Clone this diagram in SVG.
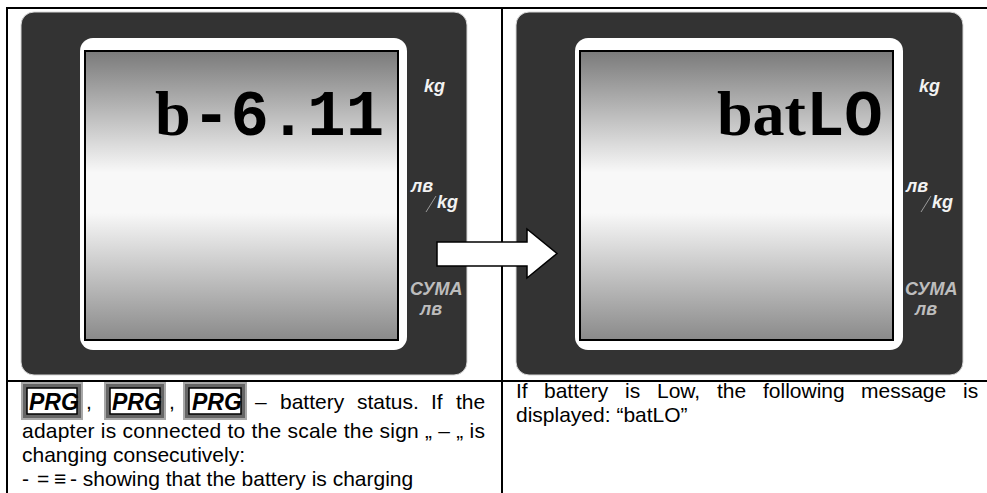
<svg xmlns="http://www.w3.org/2000/svg" width="987" height="493" viewBox="0 0 987 493">
<defs>
<linearGradient id="scr" x1="0" y1="0" x2="0" y2="1">
<stop offset="0" stop-color="#7a7a7a"/>
<stop offset="0.42" stop-color="#f8f8f8"/>
<stop offset="0.56" stop-color="#f8f8f8"/>
<stop offset="1" stop-color="#8a8a8a"/>
</linearGradient>
</defs>
<style>
.panel{fill:#333333;stroke:#d8d8d8;stroke-width:1}
.bezel{fill:#ffffff}
.screen{fill:url(#scr);stroke:#000;stroke-width:2}
.grid{stroke:#000;stroke-width:2;fill:none}
.lbl{font-family:"Liberation Sans",Arial,sans-serif;font-weight:bold;font-style:italic;font-size:18px;fill:#f2f2f2}
.lbl2{font-family:"Liberation Sans",Arial,sans-serif;font-weight:bold;font-style:italic;font-size:18px;fill:#bdbdbd}
.mono{font-family:"Liberation Mono","Courier New",monospace;font-weight:bold;font-size:64px;fill:#000}
.serif{font-family:"Liberation Serif","Times New Roman",serif;font-weight:bold;font-size:64px;fill:#000}
.body{font-family:"Liberation Sans",Arial,sans-serif;font-size:21px;fill:#000}
.prg{font-family:"Liberation Sans",Arial,sans-serif;font-weight:bold;font-style:italic;font-size:23px;fill:#000}
.pbo{fill:#a8a8a8}
.pbi{fill:#666666}
.pbw{fill:#ffffff;stroke:#000;stroke-width:1.5}
</style>
<rect width="987" height="493" fill="#ffffff"/>

<g id="table-grid">
<line class="grid" x1="6" y1="8" x2="987" y2="8"/>
<line class="grid" x1="7" y1="8" x2="7" y2="493"/>
<line class="grid" x1="502" y1="8" x2="502" y2="493"/>
<line class="grid" x1="6" y1="381" x2="987" y2="381"/>
</g>

<g id="display-left">
<rect class="panel" x="21" y="12" width="446" height="363" rx="13"/>
<rect class="bezel" x="80" y="38" width="327" height="312" rx="13"/>
<rect class="screen" x="85" y="51" width="313" height="289"/>
<text x="155" y="135"><tspan class="serif">b</tspan><tspan class="mono" x="192">-6.11</tspan></text>
<text class="lbl" x="424" y="92">kg</text>
<text class="lbl" x="411" y="192" font-size="16">лв</text>
<line x1="426" y1="212" x2="436" y2="196" stroke="#9a9a9a" stroke-width="1"/>
<text class="lbl" x="437" y="208">kg</text>
<text class="lbl2" x="410" y="295">СУМА</text>
<text class="lbl2" x="420" y="315" font-size="16">лв</text>
</g>

<g id="display-right">
<rect class="panel" x="516" y="12" width="447" height="363" rx="13"/>
<rect class="bezel" x="575" y="38" width="328" height="312" rx="13"/>
<rect class="screen" x="580" y="51" width="313" height="289"/>
<text x="717" y="135"><tspan class="serif">bat</tspan><tspan class="mono">LO</tspan></text>
<text class="lbl" x="919" y="92">kg</text>
<text class="lbl" x="906" y="192" font-size="16">лв</text>
<line x1="921" y1="212" x2="931" y2="196" stroke="#9a9a9a" stroke-width="1"/>
<text class="lbl" x="932" y="208">kg</text>
<text class="lbl2" x="905" y="295">СУМА</text>
<text class="lbl2" x="915" y="315" font-size="16">лв</text>
</g>

<g id="connectors">
<polygon points="437,242 527,242 527,229 557,253.5 527,278 527,266 437,266" fill="#ffffff" stroke="#000" stroke-width="1.5" stroke-linejoin="miter"/>
</g>

<g id="text-left">
<rect class="pbo" x="21" y="382" width="62" height="38"/>
<rect class="pbi" x="23" y="384" width="58" height="34"/>
<rect class="pbw" x="27" y="388" width="50" height="26"/>
<text class="prg" x="29" y="410">PRG</text>
<text class="body" x="86" y="409">,</text>
<rect class="pbo" x="104" y="382" width="62" height="38"/>
<rect class="pbi" x="106" y="384" width="58" height="34"/>
<rect class="pbw" x="110" y="388" width="50" height="26"/>
<text class="prg" x="112" y="410">PRG</text>
<text class="body" x="169" y="409">,</text>
<rect class="pbo" x="183" y="382" width="64" height="38"/>
<rect class="pbi" x="185" y="384" width="60" height="34"/>
<rect class="pbw" x="189" y="388" width="52" height="26"/>
<text class="prg" x="192" y="410">PRG</text>
<text class="body" y="409"><tspan x="255">–</tspan><tspan x="280">battery</tspan><tspan x="357">status.</tspan><tspan x="431">If</tspan><tspan x="456">the</tspan></text>
<text class="body" x="22" y="438" textLength="463" lengthAdjust="spacing">adapter is connected to the scale the sign „ – „ is</text>
<text class="body" x="22" y="462">changing consecutively:</text>
<text class="body" y="486"><tspan x="22">-</tspan><tspan x="37">=</tspan><tspan x="54">≡</tspan><tspan x="70">- showing that the battery is charging</tspan></text>
</g>

<g id="text-right">
<text class="body" y="398"><tspan x="516">If</tspan><tspan x="544">battery</tspan><tspan x="625">is</tspan><tspan x="657">Low,</tspan><tspan x="717">the</tspan><tspan x="763">following</tspan><tspan x="861">message</tspan><tspan x="963">is</tspan></text>
<text class="body" x="516" y="422">displayed: “batLO”</text>
</g>
</svg>
